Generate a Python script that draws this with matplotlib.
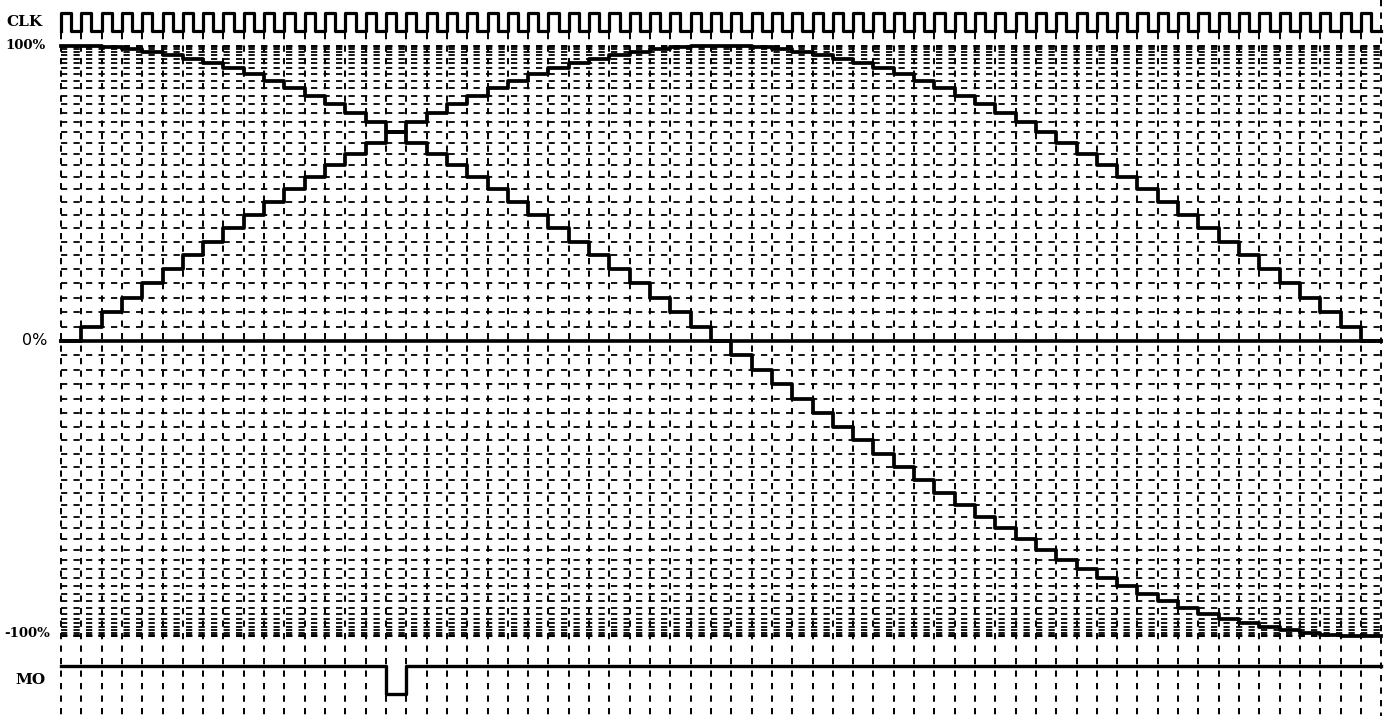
"""Timing diagram: stepped sine / cosine generator with clock and MO strobe."""
import matplotlib
matplotlib.use("Agg")
import matplotlib.pyplot as plt
import numpy as np

# sampled output values in percent, one value per clock period
SINE = [0.0, 4.9, 9.8, 14.7, 19.5, 24.3, 29.0, 33.7, 38.3, 42.8, 47.1,
        51.4, 55.6, 59.6, 63.4, 67.2, 70.7, 74.1, 77.3, 80.3, 83.1, 85.8,
        88.2, 90.4, 92.4, 94.2, 95.7, 97.0, 98.1, 98.9, 99.5, 99.9, 100.0,
        99.9, 99.5, 98.9, 98.1, 97.0, 95.7, 94.2, 92.4, 90.4, 88.2, 85.8,
        83.1, 80.3, 77.3, 74.1, 70.7, 67.2, 63.4, 59.6, 55.6, 51.4, 47.1,
        42.8, 38.3, 33.7, 29.0, 24.3, 19.5, 14.7, 9.8, 4.9, 0.0]
COSINE = [100.0, 99.9, 99.5, 98.9, 98.1, 97.0, 95.7, 94.2, 92.4, 90.4,
          88.2, 85.8, 83.1, 80.3, 77.3, 74.1, 70.7, 67.2, 63.4, 59.6, 55.6,
          51.4, 47.1, 42.8, 38.3, 33.7, 29.0, 24.3, 19.5, 14.7, 9.8, 4.9,
          0.0, -4.9, -9.8, -14.7, -19.5, -24.3, -29.0, -33.7, -38.3, -42.8,
          -47.1, -51.4, -55.6, -59.6, -63.4, -67.2, -70.7, -74.1, -77.3,
          -80.3, -83.1, -85.8, -88.2, -90.4, -92.4, -94.2, -95.7, -97.0,
          -98.1, -98.9, -99.5, -99.9, -100.0]
# MO strobe (1 = high), low for one period
MO = [1] * 16 + [0] + [1] * 48
N_PERIODS = len(SINE)

LABELS = ["CLK", "100%", "0%", "-100%", "MO"]

# layout of the digital rows (in the same units as the percent scale)
CLK_LO, CLK_HI = 105.1, 111.2
MO_LO, MO_HI = -119.7, -110.2
GRID_TOP = 104.4

plt.rcParams["lines.scale_dashes"] = False
DASH = (0, (4.5, 4.5))

fig = plt.figure(figsize=(13.93, 7.16), dpi=100)
ax = fig.add_axes([0, 0, 1, 1])
ax.set_xlim(-3.003, 65.58)
ax.set_ylim(-127.12, 115.59)
ax.axis("off")

# grid: vertical line at every clock edge, horizontal line at every level
levels = np.unique(np.concatenate([SINE, COSINE]))
for lv in levels:
    if lv == 0:
        continue
    ax.plot([0, N_PERIODS], [lv, lv], color="black", lw=1.3, ls=DASH,
            zorder=1)
for k in range(N_PERIODS + 1):
    top = 115.59 if k == N_PERIODS else GRID_TOP
    ax.plot([k, k], [top, -127.12], color="black", lw=1.4, ls=DASH,
            zorder=1)

# zero axis
ax.plot([0, N_PERIODS], [0, 0], color="black", lw=2.6, zorder=2)

# analog outputs as stepped traces
xs = np.arange(N_PERIODS + 1)
ax.step(xs, SINE + SINE[-1:], where="post", color="black", lw=2.7,
        zorder=3)
ax.step(xs, COSINE + COSINE[-1:], where="post", color="black", lw=2.7,
        zorder=3)

# clock: high in the first half of each period
clk = np.tile([1, 0], N_PERIODS)
cx = np.arange(2 * N_PERIODS + 1) / 2.0
cy = np.where(np.append(clk, clk[-1]) == 1, CLK_HI, CLK_LO)
ax.step(np.concatenate([[0], cx]), np.concatenate([[CLK_LO], cy]),
        where="post", color="black", lw=2.3, zorder=3)

# MO strobe
mo = np.array(MO + MO[-1:])
ax.step(xs, np.where(mo == 1, MO_HI, MO_LO), where="post", color="black",
        lw=2.4, zorder=3)

# row labels
serif = dict(family="DejaVu Serif", weight="bold", ha="right", va="center")
ax.text(-0.93, 108.0, LABELS[0], fontsize=11, **serif)
ax.text(-0.78, 100.0, LABELS[1], fontsize=9.5, **serif)
ax.text(-0.69, 0.0, LABELS[2], fontsize=11.5, family="DejaVu Sans",
        ha="right", va="center")
ax.text(-0.54, -99.0, LABELS[3], fontsize=9.5, **serif)
ax.text(-0.78, -115.0, LABELS[4], fontsize=11, **serif)

fig.savefig("out.png", dpi=100)
